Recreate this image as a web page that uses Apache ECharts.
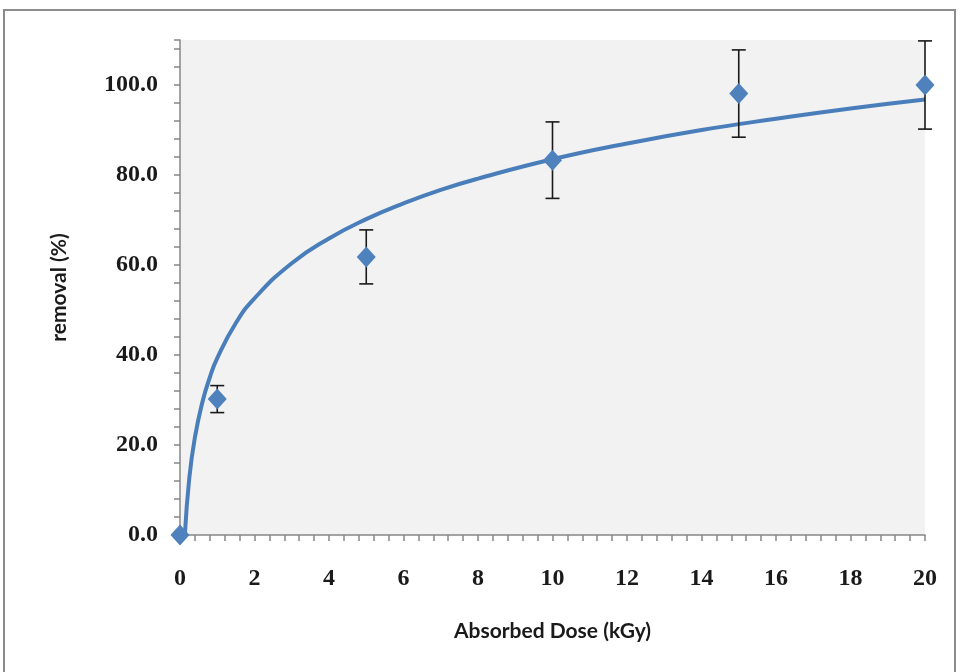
<!DOCTYPE html>
<html>
<head>
<meta charset="utf-8">
<script src="https://cdn.jsdelivr.net/npm/echarts@6/dist/echarts.min.js"></script>
<style>
  html, body { margin: 0; padding: 0; background: #fff; }
  #mychart { width: 959px; height: 672px; }
</style>
</head>
<body>
<div id="mychart"></div>
<script>
  // measured points (dose in kGy, removal in %)
  var doses = [0, 1, 5, 10, 15, 20]
  var removal = [0, 30.2, 61.8, 83.3, 98.1, 100]
  var errors = [0, 3, 6, 8.5, 9.7, 9.8]

  // fitted (logarithmic) trend curve
  var trendX = [0.13, 0.25, 0.4, 0.6, 0.8, 1, 1.5, 2, 3, 4, 5, 6, 7, 8, 10, 12, 14, 16, 18, 20]
  var trendY = [0, 12.7, 21.7, 29.5, 35.0, 39.3, 47.1, 52.6, 60.4, 65.9, 70.2, 73.7, 76.7, 79.2, 83.5, 87.0, 90.0, 92.5, 94.8, 96.8]

  var xTicks = { min: 0, max: 20, interval: 2 }
  var yTicks = { min: 0, max: 110, interval: 4, labelStep: 20 }

  var points = doses.map(function (d, i) { return [d, removal[i]] })
  var bars = doses.map(function (d, i) { return [d, removal[i] - errors[i], removal[i] + errors[i]] })
  var trend = trendX.map(function (d, i) { return [d, trendY[i]] })

  var axisColor = '#868686'
  var tickFont = { fontFamily: 'Liberation Serif', fontSize: 24, fontWeight: 'bold', color: '#1a1a1a' }

  function errorBar(params, api) {
    var x = api.value(0)
    var lo = api.coord([x, api.value(1)])
    var hi = api.coord([x, api.value(2)])
    var w = 7
    var style = { stroke: '#1a1a1a', lineWidth: 1.6 }
    return {
      type: 'group',
      children: [
        { type: 'line', shape: { x1: lo[0], y1: lo[1], x2: hi[0], y2: hi[1] }, style: style },
        { type: 'line', shape: { x1: lo[0] - w, y1: lo[1], x2: lo[0] + w, y2: lo[1] }, style: style },
        { type: 'line', shape: { x1: hi[0] - w, y1: hi[1], x2: hi[0] + w, y2: hi[1] }, style: style }
      ]
    }
  }

  var chart = echarts.init(document.getElementById('mychart'))
  chart.setOption({
    animation: false,
    backgroundColor: '#fff',
    graphic: [
      {
        type: 'rect',
        shape: { x: 4, y: 10, width: 951, height: 680 },
        style: { fill: 'none', stroke: '#8c8c8c', lineWidth: 2 },
        silent: true
      }
    ],
    grid: {
      left: 180,
      right: 34,
      top: 40,
      bottom: 137,
      show: true,
      backgroundColor: '#f2f2f2',
      borderWidth: 0
    },
    xAxis: {
      type: 'value',
      min: xTicks.min,
      max: xTicks.max,
      interval: xTicks.interval,
      name: 'Absorbed Dose (kGy)',
      nameLocation: 'middle',
      nameGap: 86,
      nameTextStyle: { fontFamily: 'Lato', fontWeight: 'bold', fontSize: 21, color: '#1a1a1a' },
      axisLine: { show: true, lineStyle: { color: axisColor, width: 1.5 } },
      axisTick: { show: true, length: 6, lineStyle: { color: axisColor, width: 1.5 } },
      minorTick: { show: true, splitNumber: 5, length: 6, lineStyle: { color: axisColor, width: 1.5 } },
      splitLine: { show: false },
      axisLabel: Object.assign({ margin: 32 }, tickFont)
    },
    yAxis: {
      type: 'value',
      min: yTicks.min,
      max: yTicks.max,
      interval: yTicks.interval,
      name: 'removal (%)',
      nameLocation: 'middle',
      nameGap: 110,
      nameRotate: 90,
      nameTextStyle: { fontFamily: 'Lato', fontWeight: 'bold', fontSize: 21, color: '#1a1a1a' },
      axisLine: { show: true, lineStyle: { color: axisColor, width: 1.5 } },
      axisTick: { show: true, length: 6, lineStyle: { color: axisColor, width: 1.5 } },
      splitLine: { show: false },
      axisLabel: Object.assign({
        margin: 22,
        formatter: function (v) {
          return v % yTicks.labelStep === 0 ? v.toFixed(1) : ''
        }
      }, tickFont)
    },
    series: [
      {
        name: 'trend',
        type: 'line',
        data: trend,
        smooth: true,
        showSymbol: false,
        z: 2,
        lineStyle: { color: '#4a7ebb', width: 4 }
      },
      {
        name: 'error',
        type: 'custom',
        data: bars,
        renderItem: errorBar,
        z: 3
      },
      {
        name: 'removal',
        type: 'scatter',
        data: points,
        symbol: 'diamond',
        symbolSize: [19, 21],
        z: 4,
        itemStyle: { color: '#4f81bd', opacity: 1 }
      }
    ]
  })
</script>
</body>
</html>
